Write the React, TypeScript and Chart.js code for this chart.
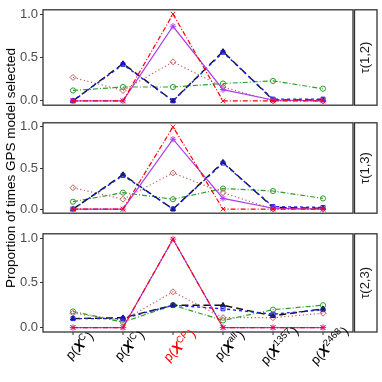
import React, { useEffect, useRef } from 'react';
import { Chart, registerables } from 'chart.js';
Chart.register(...registerables);

const FONT = '"Liberation Sans", Arial, Helvetica, sans-serif';

// Categories (superscripts of p(X^...))
const categories = ['C', 'IC', 'CP', 'all', '1357', '2468'];
const categoryColors = ['#000000', '#000000', '#FF0000', '#000000', '#000000', '#000000'];
const panelLabels = ['τ(1,2)', 'τ(1,3)', 'τ(2,3)'];
const yTickValues = [0, 0.5, 1];
const yTitle = 'Proportion of times GPS model selected';

// Panel τ(1,2)
const red12 = [0, 0, 1.0, 0, 0, 0];
const purple12 = [0, 0, 0.86, 0.13, 0.01, 0];
const black12 = [0, 0.43, 0, 0.57, 0.01, 0.01];
const blue12 = [0, 0.42, 0, 0.56, 0.02, 0.02];
const brown12 = [0.27, 0.12, 0.45, 0.16, 0, 0];
const green12 = [0.12, 0.16, 0.16, 0.2, 0.23, 0.14];

// Panel τ(1,3)
const red13 = [0, 0, 1.0, 0, 0, 0];
const purple13 = [0, 0, 0.85, 0.13, 0.01, 0];
const black13 = [0, 0.42, 0, 0.57, 0.02, 0.01];
const blue13 = [0, 0.41, 0, 0.56, 0.03, 0.02];
const brown13 = [0.26, 0.12, 0.44, 0.2, 0, 0];
const green13 = [0.09, 0.2, 0.12, 0.25, 0.22, 0.13];

// Panel τ(2,3)
const red23 = [0, 0, 0.99, 0, 0, 0];
const purple23 = [0, 0, 0.99, 0, 0, 0];
const black23 = [0.1, 0.11, 0.25, 0.25, 0.13, 0.21];
const blue23 = [0.1, 0.1, 0.25, 0.21, 0.15, 0.2];
const brown23 = [0.16, 0.08, 0.4, 0.11, 0.11, 0.16];
const green23 = [0.18, 0.06, 0.25, 0.08, 0.2, 0.25];

const panelSeries = [
  [red12, purple12, blue12, black12, brown12, green12],
  [red13, purple13, blue13, black13, brown13, green13],
  [red23, purple23, blue23, black23, brown23, green23],
];

const seriesStyles = [
  { color: '#FF0000', dash: [5, 2, 1, 2], width: 1.2, point: 'crossRot', radius: 3.2, fill: 'transparent' },
  { color: '#A83CF0', dash: [], width: 1.2, point: 'star', radius: 3.2, fill: 'transparent' },
  { color: '#1F1FE0', dash: [3, 3], width: 1.4, point: 'rect', radius: 2.8, fill: 'transparent' },
  { color: '#111111', dash: [7, 4], width: 1.4, point: 'triangle', radius: 2.8, fill: '#1a1a70' },
  { color: '#C45C5C', dash: [1.2, 2.5], width: 1.2, point: 'rectRot', radius: 3, fill: 'transparent' },
  { color: '#2E9E2E', dash: [5, 2, 1, 2], width: 1.2, point: 'circle', radius: 2.6, fill: 'transparent' },
];

const panelGeom = [
  { top: 0, height: 115, padTop: 5, padBottom: 5 },
  { top: 113, height: 110, padTop: 3, padBottom: 2 },
  { top: 224, height: 158, padTop: 3, padBottom: 50 },
];

function makePlugin(idx: number) {
  return {
    id: 'decor' + idx,
    afterDraw(chart: any) {
      const ctx = chart.ctx;
      const a = chart.chartArea;
      ctx.save();
      ctx.strokeStyle = '#333333';
      ctx.lineWidth = 1.3;
      ctx.strokeRect(a.left, a.top, a.right - a.left, a.bottom - a.top);
      // strip
      const sx = a.right + 1.5;
      const sw = 22.5;
      ctx.fillStyle = '#ffffff';
      ctx.fillRect(sx, a.top, sw, a.bottom - a.top);
      ctx.strokeRect(sx, a.top, sw, a.bottom - a.top);
      ctx.save();
      ctx.translate(sx + sw / 2, (a.top + a.bottom) / 2);
      ctx.rotate(-Math.PI / 2);
      ctx.fillStyle = '#1A1A1A';
      ctx.font = `13px ${FONT}`;
      ctx.textAlign = 'center';
      ctx.textBaseline = 'middle';
      ctx.fillText(panelLabels[idx], 0, 0);
      ctx.restore();

      if (idx === 2) {
        const xs = chart.scales.x;
        ctx.strokeStyle = '#333333';
        ctx.lineWidth = 1;
        categories.forEach((cat, i) => {
          const px = xs.getPixelForValue(i + 1);
          ctx.beginPath();
          ctx.moveTo(px, a.bottom);
          ctx.lineTo(px, a.bottom + 3);
          ctx.stroke();
          const pieces = [
            { t: 'p(', f: `13px ${FONT}`, sup: false },
            { t: 'X', f: `italic bold 14px ${FONT}`, sup: false },
            { t: cat, f: `9.5px ${FONT}`, sup: true },
            { t: ')', f: `13px ${FONT}`, sup: false },
          ];
          let total = 0;
          pieces.forEach((p) => {
            ctx.font = p.f;
            total += ctx.measureText(p.t).width + (p.t === ')' ? 1 : 0);
          });
          ctx.save();
          ctx.translate(px + 6.5, a.bottom + 13.5);
          ctx.rotate(-Math.PI / 4);
          ctx.fillStyle = categoryColors[i];
          ctx.textAlign = 'left';
          ctx.textBaseline = 'alphabetic';
          let x = -total / 2;
          pieces.forEach((p) => {
            ctx.font = p.f;
            if (p.t === ')') x += 1;
            ctx.fillText(p.t, x, p.sup ? -1 : 4.5);
            x += ctx.measureText(p.t).width;
          });
          ctx.restore();
        });
      }
      ctx.restore();
    },
  };
}

function Panel({ idx }: { idx: number }) {
  const ref = useRef<HTMLCanvasElement>(null);
  useEffect(() => {
    const g = panelGeom[idx];
    const datasets = panelSeries[idx].map((vals, s) => {
      const st = seriesStyles[s];
      return {
        data: vals.map((v, i) => ({ x: i + 1, y: v })),
        borderColor: st.color,
        borderWidth: st.width,
        borderDash: st.dash,
        pointStyle: st.point,
        pointRadius: st.radius,
        pointBorderColor: st.color,
        pointBorderWidth: 1,
        pointBackgroundColor: st.fill,
        fill: false,
        tension: 0,
        clip: false as any,
      };
    });
    const chart = new Chart(ref.current as HTMLCanvasElement, {
      type: 'line',
      data: { datasets } as any,
      options: {
        animation: false,
        responsive: false,
        devicePixelRatio: 1,
        layout: { padding: { left: 0, right: 29, top: g.padTop, bottom: g.padBottom } },
        plugins: { legend: { display: false }, tooltip: { enabled: false } },
        scales: {
          x: { type: 'linear', min: 0.4, max: 6.6, display: false },
          y: {
            type: 'linear',
            min: -0.05,
            max: 1.05,
            afterBuildTicks: (s: any) => {
              s.ticks = yTickValues.map((v) => ({ value: v }));
            },
            afterFit: (s: any) => {
              s.width = 43;
            },
            ticks: {
              color: '#4D4D4D',
              font: { family: FONT, size: 13 },
              padding: 2,
              autoSkip: false,
              callback: (v: any) => Number(v).toFixed(1),
            },
            grid: { display: true, drawOnChartArea: false, drawTicks: true, tickLength: 3, color: '#333333' },
            border: { display: false },
          },
        },
      } as any,
      plugins: [makePlugin(idx)],
    });
    return () => chart.destroy();
  }, [idx]);
  const g = panelGeom[idx];
  return (
    <canvas
      ref={ref}
      width={382}
      height={g.height}
      style={{ position: 'absolute', left: 0, top: g.top, width: 382, height: g.height, display: 'block' }}
    />
  );
}

export default function App() {
  return (
    <div
      style={{
        position: 'fixed',
        left: 0,
        top: 0,
        width: 382,
        height: 382,
        background: '#ffffff',
        overflow: 'hidden',
      }}
    >
      <Panel idx={2} />
      <Panel idx={1} />
      <Panel idx={0} />
      <div
        style={{
          position: 'absolute',
          left: 11 - 150,
          top: 168 - 8,
          width: 300,
          height: 16,
          lineHeight: '16px',
          textAlign: 'center',
          transform: 'rotate(-90deg)',
          transformOrigin: '50% 50%',
          fontFamily: FONT,
          fontSize: 13.5,
          color: '#000000',
          whiteSpace: 'nowrap',
        }}
      >
        {yTitle}
      </div>
    </div>
  );
}
